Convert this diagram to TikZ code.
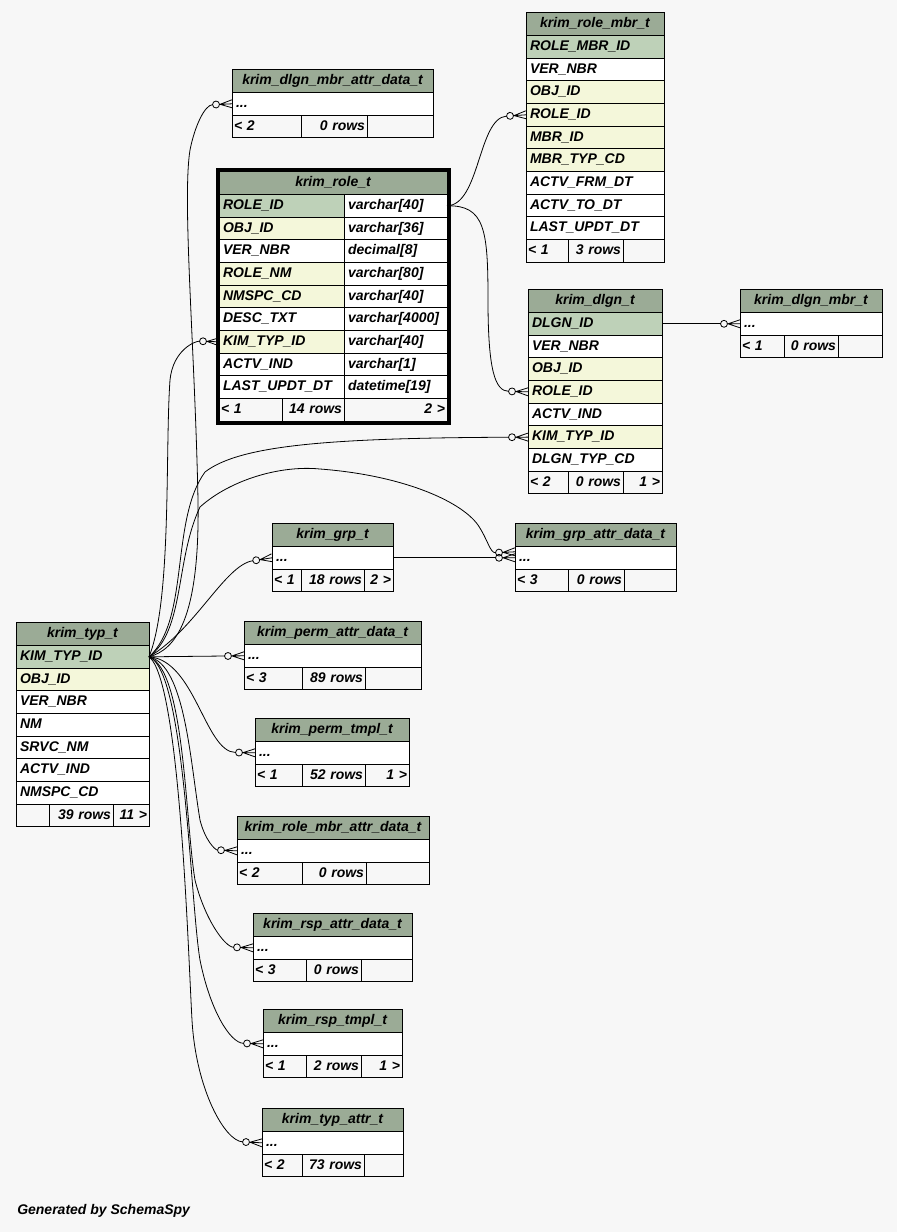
\documentclass[tikz,border=0pt]{standalone}
\usepackage{fontspec}
\setmainfont{Liberation Sans}
\usetikzlibrary{positioning, fit}
\definecolor{bggray}{HTML}{F7F7F7}
\definecolor{hdrgreen}{HTML}{9BAB96}
\definecolor{pkgreen}{HTML}{BED1B8}
\definecolor{fkyellow}{HTML}{F4F7DA}
\newcommand{\tblfont}{\fontsize{10.5}{12}\selectfont\bfseries\itshape}
% crow's foot with an open circle, as SchemaSpy draws it
\pgfdeclarearrow{
  name = Crow,
  setup code = {
    \pgfarrowssettipend{0pt}
    \pgfarrowssetlineend{-14.6pt}
    \pgfarrowssetbackend{-14.6pt}
    \pgfarrowshullpoint{0pt}{3pt}
    \pgfarrowshullpoint{0pt}{-3pt}
    \pgfarrowshullpoint{-14.6pt}{0pt}
  },
  drawing code = {
    \pgfpathmoveto{\pgfqpoint{0pt}{3pt}}
    \pgfpathlineto{\pgfqpoint{-9pt}{0pt}}
    \pgfpathlineto{\pgfqpoint{0pt}{-3pt}}
    \pgfpathmoveto{\pgfqpoint{0pt}{0pt}}
    \pgfpathlineto{\pgfqpoint{-9pt}{0pt}}
    \pgfpathcircle{\pgfqpoint{-12pt}{0pt}}{2.6pt}
    \pgfusepathqstroke
  }
}
\tikzset{
  tbl/.style={draw, line width=0.75pt, font=\tblfont, inner xsep=3pt, inner ysep=0pt, outer sep=0pt,
    minimum height=17pt, text height=8pt, text depth=2.5pt, anchor=north west, align=left},
  hdr/.style={tbl, fill=hdrgreen, align=center, minimum height=17.6pt},
  foot/.style={tbl, fill=bggray, inner xsep=1.5pt},
  rel/.style={-Crow, line width=0.6pt},
}

\begin{document}
\begin{tikzpicture}[x=0.75pt, y=-0.75pt]
  \path[use as bounding box, fill=bggray] (0,0) rectangle (897,1232);

  % krim_dlgn_mbr_attr_data_t
  \node[hdr, text width=144.75pt] (dma-h) at (232,69) {krim\_dlgn\_mbr\_attr\_data\_t};
  \node[tbl, fill=white, text width=144.75pt] (dma-1) at (dma-h.south west) {...};
  \node[foot, text width=48.75pt] (dma-f1) at (dma-1.south west) {< 2};
  \node[foot, text width=46.5pt, align=right, right=0pt of dma-f1] (dma-f2) {0 rows};
  \node[foot, text width=46.5pt, right=0pt of dma-f2] (dma-f3) {};

  % krim_role_t
  \node[hdr, text width=165pt] (role-h) at (219,171) {krim\_role\_t};
  \foreach \nm/\ty/\col [count=\i, remember=\i as \last (initially h)] in
    {ROLE\_ID/varchar[40]/pkgreen, OBJ\_ID/varchar[36]/fkyellow, VER\_NBR/decimal[8]/white,
     ROLE\_NM/varchar[80]/fkyellow, NMSPC\_CD/varchar[40]/fkyellow, DESC\_TXT/varchar[4000]/white,
     KIM\_TYP\_ID/varchar[40]/fkyellow, ACTV\_IND/varchar[1]/white, LAST\_UPDT\_DT/datetime[19]/white}
  {
    \node[tbl, fill=\col, text width=87.75pt] (role-\i) at (role-\last.south west) {\nm};
    \node[tbl, fill=white, text width=71.25pt, right=0pt of role-\i] (role-t\i) {\ty};
  }
  \node[foot, text width=44.25pt] (role-f1) at (role-9.south west) {< 1};
  \node[foot, text width=43.5pt, align=right, right=0pt of role-f1] (role-f2) {14 rows};
  \node[foot, text width=74.25pt, align=right, right=0pt of role-f2] (role-f3) {2 >};
  \node[draw, line width=2.25pt, inner sep=1.5pt, fit=(role-h)(role-f3)] (role-frame) {};

  % krim_role_mbr_t
  \node[hdr, text width=97.5pt] (rmbr-h) at (526,12) {krim\_role\_mbr\_t};
  \foreach \nm/\col [count=\i, remember=\i as \last (initially h)] in
    {ROLE\_MBR\_ID/pkgreen, VER\_NBR/white, OBJ\_ID/fkyellow, ROLE\_ID/fkyellow, MBR\_ID/fkyellow,
     MBR\_TYP\_CD/fkyellow, ACTV\_FRM\_DT/white, ACTV\_TO\_DT/white, LAST\_UPDT\_DT/white}
    \node[tbl, fill=\col, text width=97.5pt] (rmbr-\i) at (rmbr-\last.south west) {\nm};
  \node[foot, text width=28.5pt] (rmbr-f1) at (rmbr-9.south west) {< 1};
  \node[foot, text width=38.25pt, align=right, right=0pt of rmbr-f1] (rmbr-f2) {3 rows};
  \node[foot, text width=27.75pt, right=0pt of rmbr-f2] (rmbr-f3) {};

  % krim_dlgn_t
  \node[hdr, text width=94.5pt] (dlgn-h) at (528,289) {krim\_dlgn\_t};
  \foreach \nm/\col [count=\i, remember=\i as \last (initially h)] in
    {DLGN\_ID/pkgreen, VER\_NBR/white, OBJ\_ID/fkyellow, ROLE\_ID/fkyellow, ACTV\_IND/white,
     KIM\_TYP\_ID/fkyellow, DLGN\_TYP\_CD/white}
    \node[tbl, fill=\col, text width=94.5pt] (dlgn-\i) at (dlgn-\last.south west) {\nm};
  \node[foot, text width=27pt] (dlgn-f1) at (dlgn-7.south west) {< 2};
  \node[foot, text width=38.25pt, align=right, right=0pt of dlgn-f1] (dlgn-f2) {0 rows};
  \node[foot, text width=26.25pt, align=right, right=0pt of dlgn-f2] (dlgn-f3) {1 >};

  % krim_dlgn_mbr_t
  \node[hdr, text width=100.5pt] (dmbr-h) at (740,289) {krim\_dlgn\_mbr\_t};
  \node[tbl, fill=white, text width=100.5pt] (dmbr-1) at (dmbr-h.south west) {...};
  \node[foot, text width=30pt] (dmbr-f1) at (dmbr-1.south west) {< 1};
  \node[foot, text width=37.5pt, align=right, right=0pt of dmbr-f1] (dmbr-f2) {0 rows};
  \node[foot, text width=30pt, right=0pt of dmbr-f2] (dmbr-f3) {};

  % krim_grp_t
  \node[hdr, text width=84.75pt] (grp-h) at (272,523) {krim\_grp\_t};
  \node[tbl, fill=white, text width=84.75pt] (grp-1) at (grp-h.south west) {...};
  \node[foot, text width=18.75pt] (grp-f1) at (grp-1.south west) {< 1};
  \node[foot, text width=44.25pt, align=right, right=0pt of grp-f1] (grp-f2) {18 rows};
  \node[foot, text width=18.75pt, align=right, right=0pt of grp-f2] (grp-f3) {2 >};

  % krim_grp_attr_data_t
  \node[hdr, text width=114.75pt] (gad-h) at (515,523) {krim\_grp\_attr\_data\_t};
  \node[tbl, fill=white, text width=114.75pt] (gad-1) at (gad-h.south west) {...};
  \node[foot, text width=36.75pt] (gad-f1) at (gad-1.south west) {< 3};
  \node[foot, text width=39pt, align=right, right=0pt of gad-f1] (gad-f2) {0 rows};
  \node[foot, text width=36pt, right=0pt of gad-f2] (gad-f3) {};

  % krim_typ_t
  \node[hdr, text width=93.75pt] (typ-h) at (16,622) {krim\_typ\_t};
  \foreach \nm/\col [count=\i, remember=\i as \last (initially h)] in
    {KIM\_TYP\_ID/pkgreen, OBJ\_ID/fkyellow, VER\_NBR/white, NM/white, SRVC\_NM/white,
     ACTV\_IND/white, NMSPC\_CD/white}
    \node[tbl, fill=\col, text width=93.75pt] (typ-\i) at (typ-\last.south west) {\nm};
  \node[foot, text width=21.75pt] (typ-f1) at (typ-7.south west) {};
  \node[foot, text width=45pt, align=right, right=0pt of typ-f1] (typ-f2) {39 rows};
  \node[foot, text width=24pt, align=right, right=0pt of typ-f2] (typ-f3) {11 >};

  % krim_perm_attr_data_t
  \node[hdr, text width=126.75pt] (pad-h) at (244,621) {krim\_perm\_attr\_data\_t};
  \node[tbl, fill=white, text width=126.75pt] (pad-1) at (pad-h.south west) {...};
  \node[foot, text width=40.5pt] (pad-f1) at (pad-1.south west) {< 3};
  \node[foot, text width=44.25pt, align=right, right=0pt of pad-f1] (pad-f2) {89 rows};
  \node[foot, text width=39pt, right=0pt of pad-f2] (pad-f3) {};

  % krim_perm_tmpl_t
  \node[hdr, text width=109.5pt] (ptm-h) at (255,718) {krim\_perm\_tmpl\_t};
  \node[tbl, fill=white, text width=109.5pt] (ptm-1) at (ptm-h.south west) {...};
  \node[foot, text width=32.25pt] (ptm-f1) at (ptm-1.south west) {< 1};
  \node[foot, text width=44.25pt, align=right, right=0pt of ptm-f1] (ptm-f2) {52 rows};
  \node[foot, text width=30pt, align=right, right=0pt of ptm-f2] (ptm-f3) {1 >};

  % krim_role_mbr_attr_data_t
  \node[hdr, text width=138pt] (rmad-h) at (237,816) {krim\_role\_mbr\_attr\_data\_t};
  \node[tbl, fill=white, text width=138pt] (rmad-1) at (rmad-h.south west) {...};
  \node[foot, text width=45.75pt] (rmad-f1) at (rmad-1.south west) {< 2};
  \node[foot, text width=45pt, align=right, right=0pt of rmad-f1] (rmad-f2) {0 rows};
  \node[foot, text width=44.25pt, right=0pt of rmad-f2] (rmad-f3) {};

  % krim_rsp_attr_data_t
  \node[hdr, text width=113.25pt] (rad-h) at (253,913) {krim\_rsp\_attr\_data\_t};
  \node[tbl, fill=white, text width=113.25pt] (rad-1) at (rad-h.south west) {...};
  \node[foot, text width=36.75pt] (rad-f1) at (rad-1.south west) {< 3};
  \node[foot, text width=38.25pt, align=right, right=0pt of rad-f1] (rad-f2) {0 rows};
  \node[foot, text width=35.25pt, right=0pt of rad-f2] (rad-f3) {};

  % krim_rsp_tmpl_t
  \node[hdr, text width=98.25pt] (rtm-h) at (263,1009) {krim\_rsp\_tmpl\_t};
  \node[tbl, fill=white, text width=98.25pt] (rtm-1) at (rtm-h.south west) {...};
  \node[foot, text width=29.25pt] (rtm-f1) at (rtm-1.south west) {< 1};
  \node[foot, text width=38.25pt, align=right, right=0pt of rtm-f1] (rtm-f2) {2 rows};
  \node[foot, text width=27.75pt, align=right, right=0pt of rtm-f2] (rtm-f3) {1 >};

  % krim_typ_attr_t
  \node[hdr, text width=99.75pt] (tat-h) at (262,1108) {krim\_typ\_attr\_t};
  \node[tbl, fill=white, text width=99.75pt] (tat-1) at (tat-h.south west) {...};
  \node[foot, text width=27pt] (tat-f1) at (tat-1.south west) {< 2};
  \node[foot, text width=43.5pt, align=right, right=0pt of tat-f1] (tat-f2) {73 rows};
  \node[foot, text width=26.25pt, right=0pt of tat-f2] (tat-f3) {};

  % relations
  \draw[rel] (role-t1.east) .. controls (480,205) and (478,118) .. (rmbr-4.west);
  \draw[rel] (role-t1.east) .. controls (485,205) and (488,230) .. (488,300)
    .. controls (488,370) and (495,391) .. (dlgn-4.west);
  \draw[rel] (dlgn-1.east) -- (dmbr-1.west);
  \draw[rel] (grp-1.east) -- (gad-1.west);
  \draw[rel] (typ-1.east) .. controls (175,650) and (200,620) .. (198,500)
    .. controls (195,350) and (182,200) .. (190,150) .. controls (195,125) and (205,105) .. (dma-1.west);
  \draw[rel] (typ-1.east) .. controls (172,600) and (165,450) .. (170,380)
    .. controls (173,350) and (195,341) .. (role-7.west);
  \draw[rel] (typ-1.east) .. controls (190,620) and (170,520) .. (205,472)
    .. controls (240,445) and (330,438) .. (dlgn-6.west);
  \draw[rel] (typ-1.east) .. controls (185,630) and (175,560) .. (200,507)
    .. controls (230,480) and (280,465) .. (320,469) .. controls (400,475) and (460,500) .. (478,525)
    .. controls (488,540) and (490,553) .. ([yshift=4.5pt]gad-1.west);
  \draw[rel] (typ-1.east) .. controls (195,630) and (225,565) .. (grp-1.west);
  \draw[rel] (typ-1.east) -- (pad-1.west);
  \draw[rel] (typ-1.east) .. controls (195,660) and (205,752) .. (ptm-1.west);
  \draw[rel] (typ-1.east) .. controls (185,665) and (190,760) .. (200,820)
    .. controls (205,840) and (215,850) .. (rmad-1.west);
  \draw[rel] (typ-1.east) .. controls (185,670) and (185,820) .. (195,880)
    .. controls (205,920) and (225,947) .. (rad-1.west);
  \draw[rel] (typ-1.east) .. controls (185,670) and (190,900) .. (200,960)
    .. controls (210,1010) and (230,1043) .. (rtm-1.west);
  \draw[rel] (typ-1.east) .. controls (180,680) and (188,950) .. (192,1020)
    .. controls (196,1090) and (225,1141) .. (tat-1.west);

  \node[font=\tblfont, anchor=base west, inner sep=0pt] (credit) at (17,1214) {Generated by SchemaSpy};
\end{tikzpicture}
\end{document}
